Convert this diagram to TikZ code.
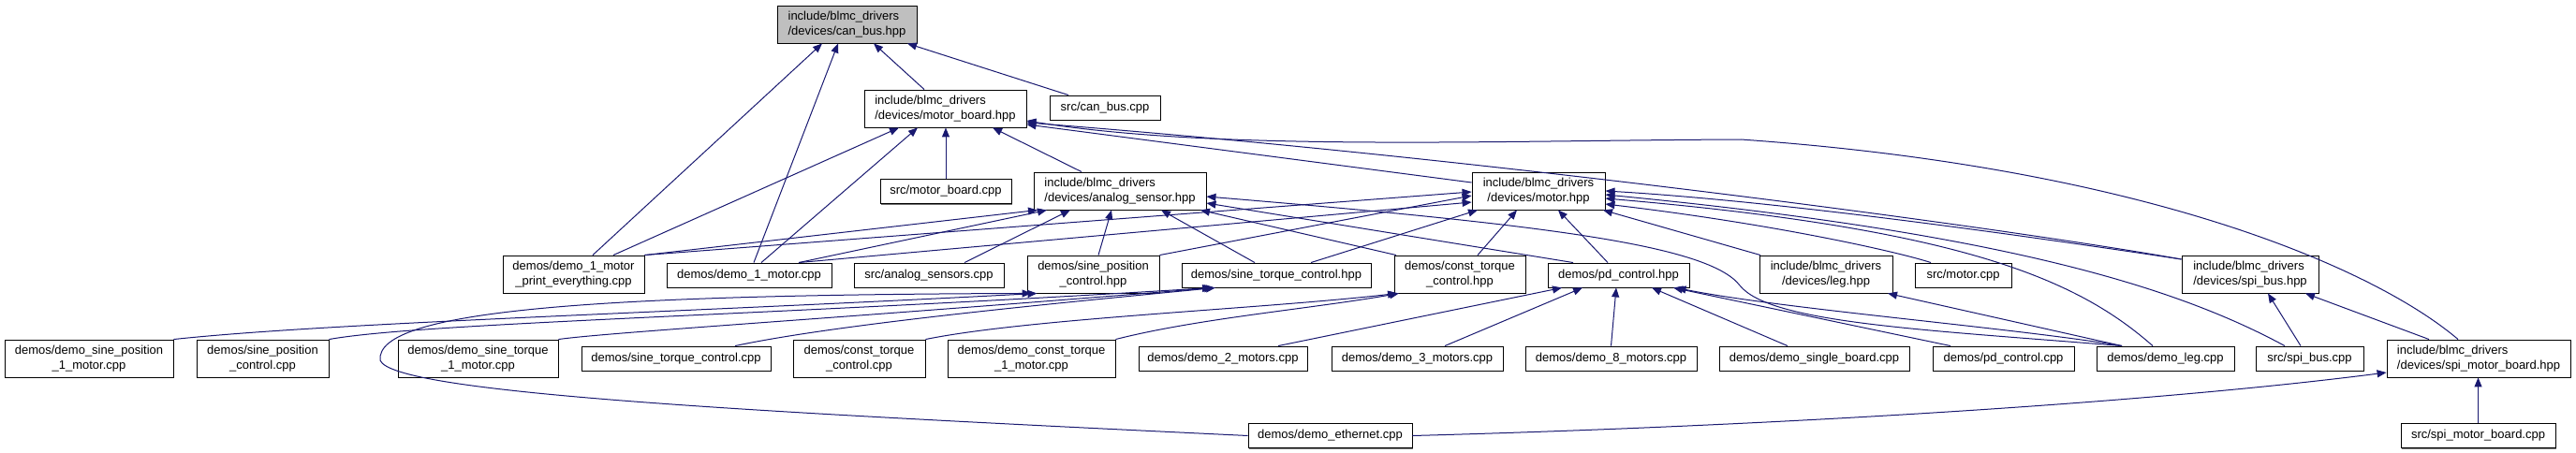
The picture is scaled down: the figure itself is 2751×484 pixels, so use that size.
\documentclass[tikz,border=0pt]{standalone}
\usepackage{fontspec}
\setmainfont{Liberation Sans}
\usetikzlibrary{arrows.meta,shadows}
\definecolor{edgeblue}{HTML}{191970}
\definecolor{greyfill}{HTML}{BFBFBF}
\tikzset{
  box/.style={draw=black, line width=0.9pt, fill=white, inner sep=0pt,
    font=\fontsize{13}{15.5}\selectfont,
    drop shadow={shadow xshift=1.3pt, shadow yshift=-1.3pt, fill=black!55, opacity=1}},
  one/.style={box, minimum height=26pt},
  two/.style={box, minimum height=40pt},
  e/.style={draw=edgeblue, line width=1pt, -{Triangle[length=10pt,width=8pt]}},
}
\begin{document}
\begin{tikzpicture}[x=1pt,y=-1pt]
\useasboundingbox (0,0) rectangle (2751,484);
% rank 0-1
\node[two,fill=greyfill,align=left,minimum width=149pt] (canbus) at (904.5,26) {include/blmc\_drivers\\/devices/can\_bus.hpp};
\node[two,align=left,minimum width=173pt] (mb) at (1009.5,116) {include/blmc\_drivers\\/devices/motor\_board.hpp};
\node[one,minimum width=118pt] (cancpp) at (1180,115) {src/can\_bus.cpp};
\node[one,minimum width=140pt] (mbcpp) at (1010,204.5) {src/motor\_board.cpp};
\node[two,align=left,minimum width=184pt] (analog) at (1196,204) {include/blmc\_drivers\\/devices/analog\_sensor.hpp};
\node[two,align=center,minimum width=142pt] (motor) at (1643,204) {include/blmc\_drivers\\/devices/motor.hpp};
% rank 2
\node[two,align=center,minimum width=151pt] (printall) at (612.5,293) {demos/demo\_1\_motor\\\_print\_everything.cpp};
\node[one,minimum width=176pt] (demo1) at (800,294) {demos/demo\_1\_motor.cpp};
\node[one,minimum width=160pt] (analogcpp) at (992,294) {src/analog\_sensors.cpp};
\node[two,align=center,minimum width=141pt] (sinepos) at (1167.5,293) {demos/sine\_position\\\_control.hpp};
\node[one,minimum width=202pt] (sinetorq) at (1363,294) {demos/sine\_torque\_control.hpp};
\node[two,align=center,minimum width=140pt] (consthpp) at (1559,293) {demos/const\_torque\\\_control.hpp};
\node[one,minimum width=151pt] (pdhpp) at (1728.5,294) {demos/pd\_control.hpp};
\node[two,align=center,minimum width=142pt] (leghpp) at (1950,293) {include/blmc\_drivers\\/devices/leg.hpp};
\node[one,minimum width=103pt] (motorcpp) at (2096.5,294) {src/motor.cpp};
\node[two,align=left,minimum width=146pt] (spibus) at (2403,293) {include/blmc\_drivers\\/devices/spi\_bus.hpp};
% rank 3
\node[two,align=center,minimum width=180pt] (dsp1m) at (95,383) {demos/demo\_sine\_position\\\_1\_motor.cpp};
\node[two,align=center,minimum width=141pt] (spcpp) at (280.5,383) {demos/sine\_position\\\_control.cpp};
\node[two,align=center,minimum width=171pt] (dst1m) at (510.5,383) {demos/demo\_sine\_torque\\\_1\_motor.cpp};
\node[one,minimum width=202pt] (stcpp) at (722,383) {demos/sine\_torque\_control.cpp};
\node[two,align=center,minimum width=141pt] (cttcpp) at (917.5,383) {demos/const\_torque\\\_control.cpp};
\node[two,align=center,minimum width=179pt] (dct1m) at (1101.5,383) {demos/demo\_const\_torque\\\_1\_motor.cpp};
\node[one,minimum width=180pt] (d2m) at (1306,383) {demos/demo\_2\_motors.cpp};
\node[one,minimum width=183pt] (d3m) at (1513.5,383) {demos/demo\_3\_motors.cpp};
\node[one,minimum width=183pt] (d8m) at (1720.5,383) {demos/demo\_8\_motors.cpp};
\node[one,minimum width=203pt] (dsb) at (1937.5,383) {demos/demo\_single\_board.cpp};
\node[one,minimum width=151pt] (pdcpp) at (2139.5,383) {demos/pd\_control.cpp};
\node[one,minimum width=147pt] (dleg) at (2312.5,383) {demos/demo\_leg.cpp};
\node[one,minimum width=115pt] (spicpp) at (2466.5,383) {src/spi\_bus.cpp};
\node[two,align=left,minimum width=196pt] (smbhpp) at (2647,383) {include/blmc\_drivers\\/devices/spi\_motor\_board.hpp};
% rank 4
\node[one,minimum width=175pt] (deth) at (1420.5,465.5) {demos/demo\_ethernet.cpp};
\node[one,minimum width=165pt] (smbcpp) at (2646.5,465.5) {src/spi\_motor\_board.cpp};
% edges to can_bus.hpp
\draw[e] ([xshift=-22.5pt]mb.north) -- ([xshift=28.5pt]canbus.south);
\draw[e] ([xshift=-39pt]cancpp.north) -- ([xshift=64.5pt]canbus.south);
\draw[e] ([xshift=20.5pt]printall.north) -- ([xshift=-26.5pt]canbus.south);
\draw[e] ([xshift=5pt]demo1.north) -- ([xshift=-9.5pt]canbus.south);
% edges to motor_board.hpp
\draw[e] (mbcpp.north) -- (mbcpp.north |- mb.south);
\draw[e] ([xshift=-41pt]analog.north) -- ([xshift=50.5pt]mb.south);
\draw[e] ([xshift=42.5pt]printall.north) -- ([xshift=-49.5pt]mb.south);
\draw[e] ([xshift=13pt]demo1.north) -- ([xshift=-29.5pt]mb.south);
\draw[e] ([yshift=9pt]motor.west) -- ([yshift=-17pt]mb.east);
\draw[e] ([yshift=16pt]spibus.west) .. controls (2150,245) and (1600,170) .. ([yshift=-15pt]mb.east);
\draw[e] ([xshift=-22pt]smbhpp.north) .. controls (2540,290) and (2300,180) .. (1859,149) .. controls (1600,150) and (1300,162) .. ([yshift=-13pt]mb.east);
% edges to analog_sensor.hpp
\draw[e] (printall.north east) -- ([xshift=-88pt]analog.south);
\draw[e] ([xshift=53pt]demo1.north) -- ([xshift=-78pt]analog.south);
\draw[e] ([xshift=38pt]analogcpp.north) -- ([xshift=-53pt]analog.south);
\draw[e] ([xshift=5.5pt]sinepos.north) -- ([xshift=-9pt]analog.south);
\draw[e] ([xshift=-23pt]sinetorq.north) -- ([xshift=44pt]analog.south);
\draw[e] ([xshift=-68pt]consthpp.north) -- ([xshift=86pt]analog.south);
\draw[e] ([xshift=-48.5pt]pdhpp.north) -- ([yshift=-13pt]analog.east);
\draw[e] ([xshift=-46.5pt]dleg.north) .. controls (2050,352) and (1890,345) .. (1858,305) .. controls (1825,262) and (1650,240) .. ([yshift=-6pt]analog.east);
% edges to motor.hpp
\draw[e] (printall.north east) -- ([yshift=-1pt]motor.west);
\draw[e] (sinepos.north east) -- ([yshift=-5pt]motor.west);
\draw[e] ([xshift=53pt]demo1.north) -- ([yshift=-12pt]motor.west);
\draw[e] ([xshift=37pt]sinetorq.north) -- ([xshift=-65pt]motor.south);
\draw[e] ([xshift=19pt]consthpp.north) -- ([xshift=-23pt]motor.south);
\draw[e] ([xshift=-11.5pt]pdhpp.north) -- ([xshift=21pt]motor.south);
\draw[e] ([xshift=-70pt]leghpp.north) -- ([xshift=69pt]motor.south);
\draw[e] ([xshift=-34.5pt]motorcpp.north) .. controls (2030,270) and (1900,240) .. ([yshift=-14pt]motor.east);
\draw[e] ([xshift=-13.5pt]dleg.north) .. controls (2220,300) and (2100,245) .. ([yshift=-8pt]motor.east);
\draw[e] ([xshift=-26.5pt]spicpp.north) .. controls (2330,310) and (2150,250) .. ([yshift=-4pt]motor.east);
\draw[e] ([yshift=16pt]spibus.west) .. controls (2150,250) and (1900,215) .. (motor.east);
% edges to rank-2 headers
\draw[e] (dsp1m.north east) .. controls (350,345) and (700,335) .. ([xshift=-60pt]sinepos.south);
\draw[e] (spcpp.north east) .. controls (450,345) and (800,338) .. ([xshift=-69pt]sinetorq.south);
\draw[e] (dst1m.north east) .. controls (650,355) and (900,340) .. ([xshift=-67pt]sinetorq.south);
\draw[e] ([xshift=63pt]stcpp.north) .. controls (900,345) and (1150,322) .. ([xshift=-65pt]sinetorq.south);
\draw[e] (deth.west) .. controls (800,440) and (420,420) .. (406,385) .. controls (400,330) and (650,315) .. ([xshift=-66pt]sinepos.south);
\draw[e] (cttcpp.north east) .. controls (1100,340) and (1350,330) .. ([xshift=-67pt]consthpp.south);
\draw[e] (dct1m.north east) .. controls (1280,340) and (1400,330) .. ([xshift=-65pt]consthpp.south);
\draw[e] ([xshift=59pt]d2m.north) -- ([xshift=-60.5pt]pdhpp.south);
\draw[e] ([xshift=29.5pt]d3m.north) -- ([xshift=-38.5pt]pdhpp.south);
\draw[e] (d8m.north) -- ([xshift=-2.5pt]pdhpp.south);
\draw[e] ([xshift=-28.5pt]dsb.north) -- ([xshift=35.5pt]pdhpp.south);
\draw[e] ([xshift=-56.5pt]pdcpp.north) -- ([xshift=58.5pt]pdhpp.south);
\draw[e] ([xshift=-46.5pt]dleg.north) .. controls (2150,350) and (1900,330) .. ([xshift=62pt]pdhpp.south);
\draw[e] ([xshift=-46.5pt]dleg.north) -- ([xshift=66pt]leghpp.south);
\draw[e] ([xshift=-9.5pt]spicpp.north) -- ([xshift=19pt]spibus.south);
\draw[e] ([xshift=-53pt]smbhpp.north) -- ([xshift=59pt]spibus.south);
\draw[e] (deth.east) .. controls (1900,455) and (2300,430) .. ([yshift=-15pt]smbhpp.west);
\draw[e] (smbcpp.north) -- (smbcpp.north |- smbhpp.south);
\end{tikzpicture}
\end{document}
